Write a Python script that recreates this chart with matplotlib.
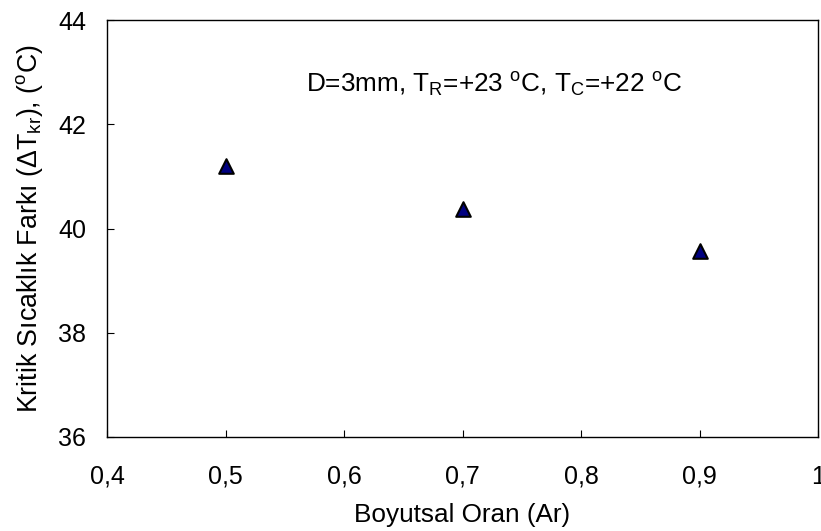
import matplotlib
matplotlib.use("Agg")
import matplotlib.pyplot as plt

ar = [0.5, 0.7, 0.9]
dtkr = [41.2, 40.37, 39.57]
xticks = [0.4, 0.5, 0.6, 0.7, 0.8, 0.9, 1.0]
xticklabels = ["0,4", "0,5", "0,6", "0,7", "0,8", "0,9", "1"]
yticks = [36, 38, 40, 42, 44]

plt.rcParams['font.family'] = ['Liberation Sans', 'DejaVu Sans']
plt.rcParams['mathtext.fontset'] = 'custom'
plt.rcParams['mathtext.rm'] = 'Liberation Sans'
plt.rcParams['mathtext.it'] = 'Liberation Sans'

FS = 18
fig = plt.figure(figsize=(8.21, 5.31), dpi=100)
ax = fig.add_axes([107/821, 1-437/531, (818-107)/821, (437-20)/531])
ax.scatter(ar, dtkr, marker='^', s=110, c='#000080', edgecolors='black', linewidths=1.5, zorder=3)
ax.set_xlim(0.4, 1.0)
ax.set_ylim(36, 44)
ax.set_xticks(xticks)
ax.set_xticklabels(xticklabels)
ax.set_yticks(yticks)
ax.tick_params(direction='in', length=5, labelsize=FS, width=0.8)
ax.tick_params(axis='y', pad=15)
ax.tick_params(axis='x', pad=20)
for s in ax.spines.values():
    s.set_linewidth(1.0)
ax.set_xlabel("Boyutsal Oran (Ar)", fontsize=18.8, labelpad=10)
ax.set_ylabel(r"Kritik Sıcaklık Farkı ($\Delta$T$_{\rm kr}$), ($^{\rm o}$C)", fontsize=19.3)
ax.yaxis.set_label_coords(-(107-45)/711, 0.5)
ax.text(0.28, 0.845, r"D=3mm, T$_{\rm R}$=+23 $^{\rm o}$C, T$_{\rm C}$=+22 $^{\rm o}$C",
        transform=ax.transAxes, fontsize=18.8, va='center', ha='left')
fig.savefig("out.png", dpi=100)
